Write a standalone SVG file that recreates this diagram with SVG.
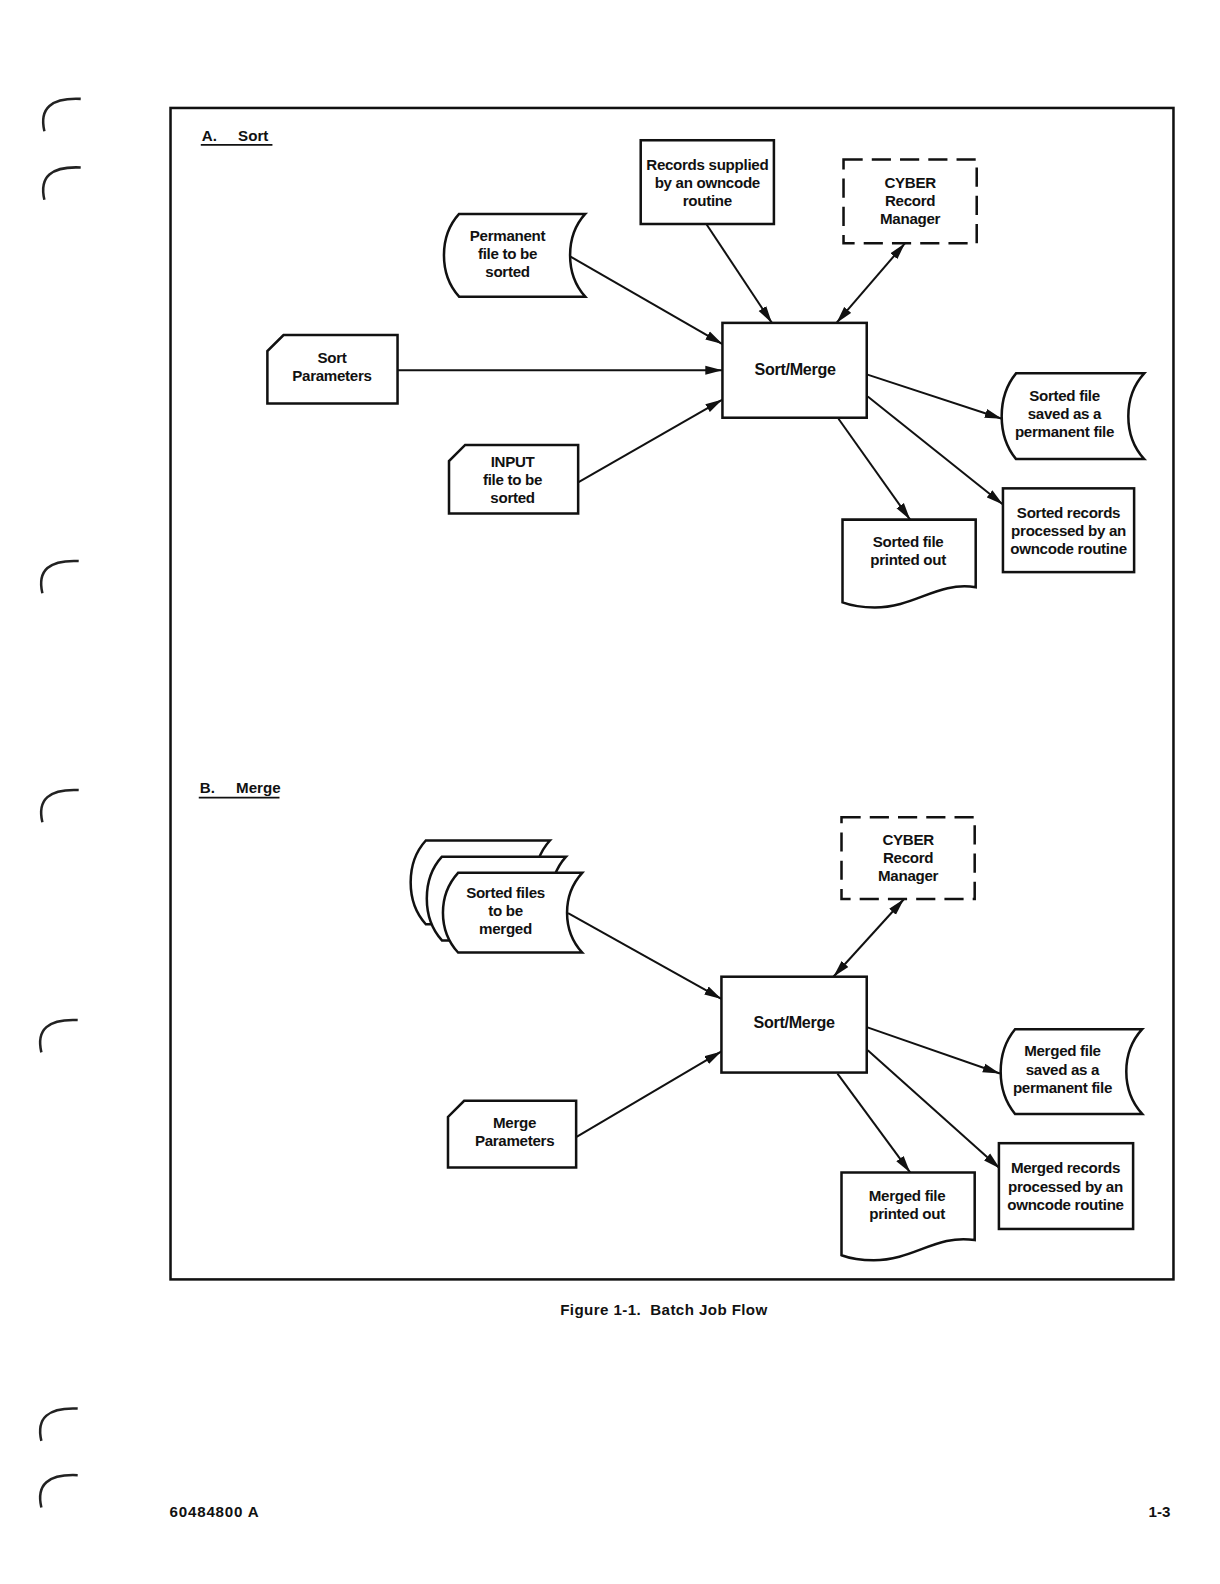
<svg xmlns="http://www.w3.org/2000/svg" width="1220" height="1584" viewBox="0 0 1220 1584">
<style>
.bx{fill:#fff;stroke:#111;stroke-width:2.5;stroke-linejoin:miter}
.dash{fill:#fff;stroke:#111;stroke-width:2.5;stroke-dasharray:19 9}
.ar{fill:none;stroke:#111;stroke-width:2}
.t{font-family:"Liberation Sans",Arial,sans-serif;font-weight:bold;font-size:15px;letter-spacing:-0.3px;fill:#111;text-anchor:middle}
.h{font-family:"Liberation Sans",Arial,sans-serif;font-weight:bold;font-size:15px;fill:#111}
.hole{fill:none;stroke:#222;stroke-width:2.5}
</style>
<defs>
<marker id="ah" markerUnits="userSpaceOnUse" markerWidth="18" markerHeight="10" refX="17" refY="5" orient="auto-start-reverse" viewBox="0 0 18 10">
<path d="M0,0.5 L17,5 L0,9.5 z" fill="#111"/>
</marker>
</defs>
<rect width="1220" height="1584" fill="#fff"/>

<g transform="scale(1.009)">
<g id="binder-holes">
<path class="hole" d="M44,130 Q36,96 80,98"/>
<path class="hole" d="M44,198 Q36,164 80,166"/>
<path class="hole" d="M42,588 Q34,554 78,556"/>
<path class="hole" d="M42,815 Q34,781 78,783"/>
<path class="hole" d="M41,1043 Q33,1009 77,1011"/>
<path class="hole" d="M41,1428 Q33,1394 77,1396"/>
<path class="hole" d="M41,1494 Q33,1460 77,1462"/>
</g>

<rect id="frame" x="169" y="107" width="994" height="1161" fill="none" stroke="#111" stroke-width="2.5"/>

<g id="section-a-title">
<text class="h" x="200" y="140">A.</text>
<text class="h" x="236" y="140">Sort</text>
<line x1="199" y1="143.5" x2="270" y2="143.5" stroke="#111" stroke-width="1.8"/>
</g>
<g id="section-b-title">
<text class="h" x="198" y="786">B.</text>
<text class="h" x="234" y="786">Merge</text>
<line x1="197" y1="790.5" x2="277" y2="790.5" stroke="#111" stroke-width="1.8"/>
</g>

<g id="connectors" class="ar">
<line x1="565" y1="254" x2="716" y2="341" marker-end="url(#ah)"/>
<line x1="700" y1="222" x2="765" y2="320" marker-end="url(#ah)"/>
<line x1="897" y1="241" x2="829" y2="320" marker-start="url(#ah)" marker-end="url(#ah)"/>
<line x1="394" y1="367" x2="716" y2="367" marker-end="url(#ah)"/>
<line x1="573" y1="478" x2="716" y2="396" marker-end="url(#ah)"/>
<line x1="859" y1="371" x2="993" y2="415" marker-end="url(#ah)"/>
<line x1="860" y1="393" x2="994" y2="500" marker-end="url(#ah)"/>
<line x1="831" y1="415" x2="902" y2="515" marker-end="url(#ah)"/>

<line x1="563" y1="905" x2="715" y2="990" marker-end="url(#ah)"/>
<line x1="896" y1="891" x2="826" y2="968" marker-start="url(#ah)" marker-end="url(#ah)"/>
<line x1="571" y1="1127" x2="715" y2="1042" marker-end="url(#ah)"/>
<line x1="859" y1="1018" x2="991" y2="1064" marker-end="url(#ah)"/>
<line x1="860" y1="1041" x2="991" y2="1158" marker-end="url(#ah)"/>
<line x1="830" y1="1064" x2="902" y2="1162" marker-end="url(#ah)"/>
</g>

<g id="records-supplied">
<rect class="bx" x="635" y="139" width="132" height="83"/>
<text class="t" x="701" y="168">Records supplied</text>
<text class="t" x="701" y="186">by an owncode</text>
<text class="t" x="701" y="204">routine</text>
</g>
<g id="cyber-a">
<rect class="dash" x="836" y="158" width="132" height="83"/>
<text class="t" x="902" y="186">CYBER</text>
<text class="t" x="902" y="204">Record</text>
<text class="t" x="902" y="222">Manager</text>
</g>
<g id="permanent-file">
<path class="bx" d="M455,212 L580,212 C560,234 560,272 580,294 L455,294 C435,272 435,234 455,212 Z"/>
<text class="t" x="503" y="239">Permanent</text>
<text class="t" x="503" y="257">file to be</text>
<text class="t" x="503" y="275">sorted</text>
</g>
<g id="sort-parameters">
<path class="bx" d="M281,332 L394,332 L394,400 L265,400 L265,348 Z"/>
<text class="t" x="329" y="360">Sort</text>
<text class="t" x="329" y="378">Parameters</text>
</g>
<g id="sortmerge-a">
<rect class="bx" x="716" y="320" width="143" height="94"/>
<text class="t" x="788" y="372" style="font-size:16px">Sort/Merge</text>
</g>
<g id="input-file">
<path class="bx" d="M461,441 L573,441 L573,509 L445,509 L445,457 Z"/>
<text class="t" x="508" y="463">INPUT</text>
<text class="t" x="508" y="481">file to be</text>
<text class="t" x="508" y="499">sorted</text>
</g>
<g id="sorted-file-saved">
<path class="bx" d="M1007,370 L1134,370 C1113,393 1113,432 1134,455 L1007,455 C988,432 988,393 1007,370 Z"/>
<text class="t" x="1055" y="397">Sorted file</text>
<text class="t" x="1055" y="415">saved as a</text>
<text class="t" x="1055" y="433">permanent file</text>
</g>
<g id="sorted-records">
<rect class="bx" x="994" y="484" width="130" height="83"/>
<text class="t" x="1059" y="513">Sorted records</text>
<text class="t" x="1059" y="531">processed by an</text>
<text class="t" x="1059" y="549">owncode routine</text>
</g>
<g id="sorted-printed">
<path class="bx" d="M835,515 L967,515 L967,582 C929,576 907,602 867,602 C852,602 843,600 835,597 Z"/>
<text class="t" x="900" y="542">Sorted file</text>
<text class="t" x="900" y="560">printed out</text>
</g>

<g id="cyber-b">
<rect class="dash" x="834" y="810" width="132" height="81"/>
<text class="t" x="900" y="837">CYBER</text>
<text class="t" x="900" y="855">Record</text>
<text class="t" x="900" y="873">Manager</text>
</g>
<g id="sorted-files-to-merge">
<path class="bx" d="M422,833 L545,833 C525,855 525,894 545,916 L422,916 C402,894 402,855 422,833 Z"/>
<path class="bx" d="M438,849 L561,849 C541,871 541,910 561,932 L438,932 C418,910 418,871 438,849 Z"/>
<path class="bx" d="M454,865 L577,865 C557,887 557,922 577,944 L454,944 C434,922 434,887 454,865 Z"/>
<text class="t" x="501" y="890">Sorted files</text>
<text class="t" x="501" y="908">to be</text>
<text class="t" x="501" y="926">merged</text>
</g>
<g id="sortmerge-b">
<rect class="bx" x="715" y="968" width="144" height="95"/>
<text class="t" x="787" y="1019" style="font-size:16px">Sort/Merge</text>
</g>
<g id="merge-parameters">
<path class="bx" d="M460,1091 L571,1091 L571,1157 L444,1157 L444,1107 Z"/>
<text class="t" x="510" y="1118">Merge</text>
<text class="t" x="510" y="1136">Parameters</text>
</g>
<g id="merged-file-saved">
<path class="bx" d="M1006,1020 L1132,1020 C1111,1043 1111,1081 1132,1104 L1006,1104 C987,1081 987,1043 1006,1020 Z"/>
<text class="t" x="1053" y="1047">Merged file</text>
<text class="t" x="1053" y="1065">saved as a</text>
<text class="t" x="1053" y="1083">permanent file</text>
</g>
<g id="merged-records">
<rect class="bx" x="990" y="1133" width="133" height="85"/>
<text class="t" x="1056" y="1163">Merged records</text>
<text class="t" x="1056" y="1181">processed by an</text>
<text class="t" x="1056" y="1199">owncode routine</text>
</g>
<g id="merged-printed">
<path class="bx" d="M834,1162 L966,1162 L966,1229 C928,1223 906,1249 866,1249 C851,1249 842,1247 834,1244 Z"/>
<text class="t" x="899" y="1190">Merged file</text>
<text class="t" x="899" y="1208">printed out</text>
</g>

<g id="caption">
<text class="t" x="658" y="1303" style="letter-spacing:0.4px">Figure 1-1.&#160; Batch Job Flow</text>
</g>
<g id="footer">
<text class="h" x="168" y="1503" style="letter-spacing:0.8px">60484800 A</text>
<text class="h" x="1160" y="1503" text-anchor="end">1-3</text>
</g>
</g>
</svg>
